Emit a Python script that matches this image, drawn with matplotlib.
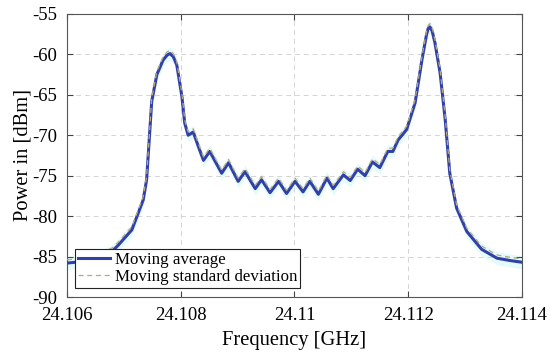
import numpy as np
import matplotlib.pyplot as plt

# frequency [GHz] and moving average power [dBm]
freq = [24.1060, 24.1063, 24.1066, 24.1068, 24.1069, 24.10714, 24.10734, 24.1074,
        24.10749, 24.10758, 24.10769, 24.10776, 24.10781, 24.10787, 24.10793, 24.10802,
        24.10807, 24.10813, 24.10822, 24.10831, 24.1084, 24.10851, 24.10872, 24.10884,
        24.10901, 24.10913, 24.10931, 24.10942, 24.10957, 24.10972, 24.10986, 24.11001,
        24.11015, 24.11027, 24.11042, 24.11057, 24.11068, 24.11086, 24.11098, 24.11111,
        24.11124, 24.11137, 24.1115, 24.11164, 24.11173, 24.11182, 24.11189, 24.11197,
        24.11203, 24.11212, 24.11217, 24.11224, 24.11232, 24.11235, 24.11238, 24.11242,
        24.11247, 24.11256, 24.11265, 24.11273, 24.11285, 24.11303, 24.11329, 24.11356,
        24.1138, 24.1140]
avg = [-85.8, -85.6, -85.0, -84.3, -83.6, -81.7, -78.0, -75.5,
       -65.8, -62.5, -60.7, -60.1, -59.9, -60.3, -61.3, -65.2,
       -68.5, -70.0, -69.6, -71.4, -73.1, -72.0, -74.7, -73.4,
       -75.7, -74.5, -76.6, -75.5, -77.1, -75.7, -77.2, -75.7,
       -77.0, -75.7, -77.3, -75.3, -76.6, -74.9, -75.6, -74.2,
       -75.0, -73.3, -74.0, -72.0, -72.0, -70.6, -70.0, -69.3,
       -68.0, -66.0, -63.8, -60.7, -57.6, -56.8, -56.6, -57.1,
       -58.6, -62.3, -68.1, -74.7, -79.0, -81.9, -84.1, -85.2,
       -85.5, -85.7]
std_dev = 0.4  # moving standard deviation, dB

xticks = [24.106, 24.108, 24.11, 24.112, 24.114]
xtick_labels = ['24.106', '24.108', '24.11', '24.112', '24.114']
yticks = [-90, -85, -80, -75, -70, -65, -60, -55]

plt.rcParams['font.family'] = ['Liberation Serif', 'DejaVu Serif']
plt.rcParams['axes.unicode_minus'] = False

fig = plt.figure(figsize=(5.5, 3.57), dpi=100)
ax = fig.add_axes([0.1218, 0.168, 0.8273, 0.793])

f = np.array(freq)
a = np.array(avg)
ax.fill_between(f, a - 2 * std_dev, a + 2 * std_dev, color='#e4fbfb', lw=0, zorder=1)
ax.plot(f, a, color='#3040a8', lw=2.2, label='Moving average', zorder=3,
        solid_joinstyle='round')
ax.plot(f, a + std_dev, color='#b8a882', lw=0.9, ls=(0, (4, 3)),
        label='Moving standard deviation', zorder=4)

ax.set_xlim(24.106, 24.114)
ax.set_ylim(-90, -55)
ax.set_xticks(xticks)
ax.set_xticklabels(xtick_labels)
ax.set_yticks(yticks)
ax.grid(True, color='#d4d4d4', ls=(0, (5, 4)), lw=0.7)
ax.tick_params(direction='in', top=True, right=True, labelsize=13.5, length=4,
               color='#444444')
ax.tick_params(axis='x', pad=7)
ax.tick_params(axis='y', pad=7)
for s in ax.spines.values():
    s.set_color('#555555')
    s.set_linewidth(0.8)

ax.set_xlabel('Frequency [GHz]', fontsize=14.8, labelpad=5)
ax.set_ylabel('Power in [dBm]', fontsize=14.8, labelpad=0)

leg = ax.legend(loc='lower left', bbox_to_anchor=(0.0176, 0.032), borderaxespad=0,
                fontsize=12.2, fancybox=False, framealpha=1, edgecolor='#222222',
                handlelength=1.9, borderpad=0.15, labelspacing=0.1, handletextpad=0.3)
leg.get_frame().set_linewidth(0.8)

fig.savefig('out.png', dpi=100)
